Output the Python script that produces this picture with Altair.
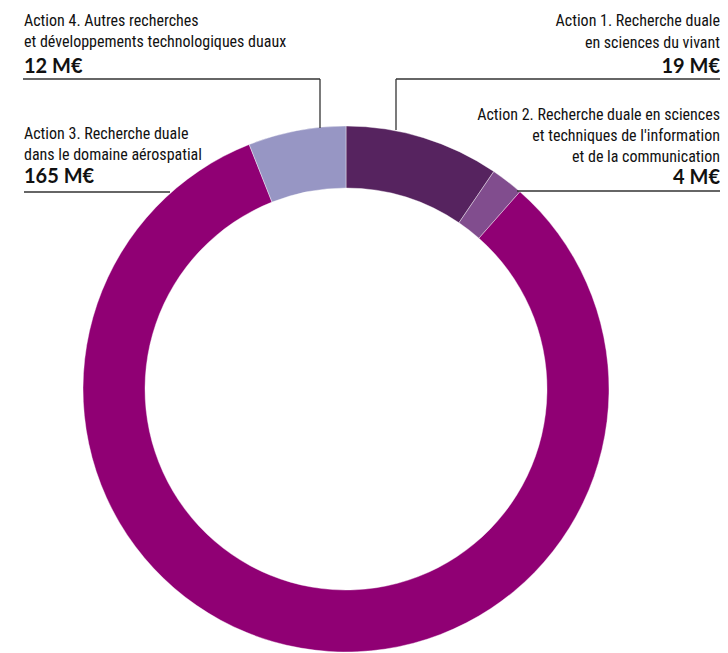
import altair as alt
import pandas as pd

# ---- data ----
actions = ["Action 1", "Action 2", "Action 3", "Action 4"]
values = [19, 4, 165, 12]
colors = ["#56235f", "#814d8e", "#900074", "#9796c4"]

label_lines = [
    ["Action 1. Recherche duale", "en sciences du vivant"],
    ["Action 2. Recherche duale en sciences", "et techniques de l'information", "et de la communication"],
    ["Action 3. Recherche duale", "dans le domaine aérospatial"],
    ["Action 4. Autres recherches", "et développements technologiques duaux"],
]
amount_labels = ["19 M€", "4 M€", "165 M€", "12 M€"]

# ---- layout (annotation placement, chart pixels) ----
W, H = 712, 645
CX, CY = 338, 381
R_OUT, R_IN = 263, 201
FONT = "Roboto Condensed, Roboto, sans-serif"
BOLD_FONT = "Lato, sans-serif"

# side, x anchor, baselines for each text line, baseline of amount
label_layout = [
    ("right", 712, [18, 40], 65),
    ("right", 712, [112, 133, 154], 176),
    ("left", 16, [131, 152], 175),
    ("left", 16, [18, 39], 65),
]
leader_lines = [
    (388, 712, 71, 71), (388, 388, 71, 122),
    (509, 712, 183, 183),
    (16, 162, 184, 184),
    (15, 312, 71, 71), (312, 312, 71, 120),
]

df = pd.DataFrame({"action": actions, "value": values, "order": range(len(actions))})

donut = alt.Chart(df).mark_arc(innerRadius=R_IN, outerRadius=R_OUT, stroke="white", strokeWidth=0.4).encode(
    theta=alt.Theta("value:Q", stack=True),
    order=alt.Order("order:Q"),
    color=alt.Color("action:N", scale=alt.Scale(domain=actions, range=colors), legend=None),
    x=alt.value(CX),
    y=alt.value(CY),
)

reg_rows, bold_rows = [], []
for lines, amt, (side, xa, ys, yb) in zip(label_lines, amount_labels, label_layout):
    for t, yy in zip(lines, ys):
        reg_rows.append({"text": t, "x": xa, "y": yy, "side": side})
    bold_rows.append({"text": amt, "x": xa, "y": yb, "side": side})
reg = pd.DataFrame(reg_rows)
bold = pd.DataFrame(bold_rows)

def text_layer(d, side, bold_flag):
    sub = d[d["side"] == side]
    return alt.Chart(sub).mark_text(
        align=side, baseline="alphabetic",
        font=BOLD_FONT if bold_flag else FONT,
        fontSize=20 if bold_flag else 16,
        fontWeight="bold" if bold_flag else "normal",
        color="#111111",
    ).encode(
        x=alt.X("x:Q", scale=None), y=alt.Y("y:Q", scale=None), text="text:N"
    )

ll = pd.DataFrame(leader_lines, columns=["x", "x2", "y", "y2"])
rules = alt.Chart(ll).mark_rule(color="#333333", strokeWidth=1.3).encode(
    x=alt.X("x:Q", scale=None), x2="x2", y=alt.Y("y:Q", scale=None), y2="y2"
)

chart = alt.layer(
    donut, rules,
    text_layer(reg, "left", False), text_layer(reg, "right", False),
    text_layer(bold, "left", True), text_layer(bold, "right", True),
).properties(
    width=W, height=H, padding=0, autosize=alt.AutoSizeParams(type="none")
).configure_view(stroke=None)

chart.save("out.html", embed_options={"renderer": "svg", "actions": False})
